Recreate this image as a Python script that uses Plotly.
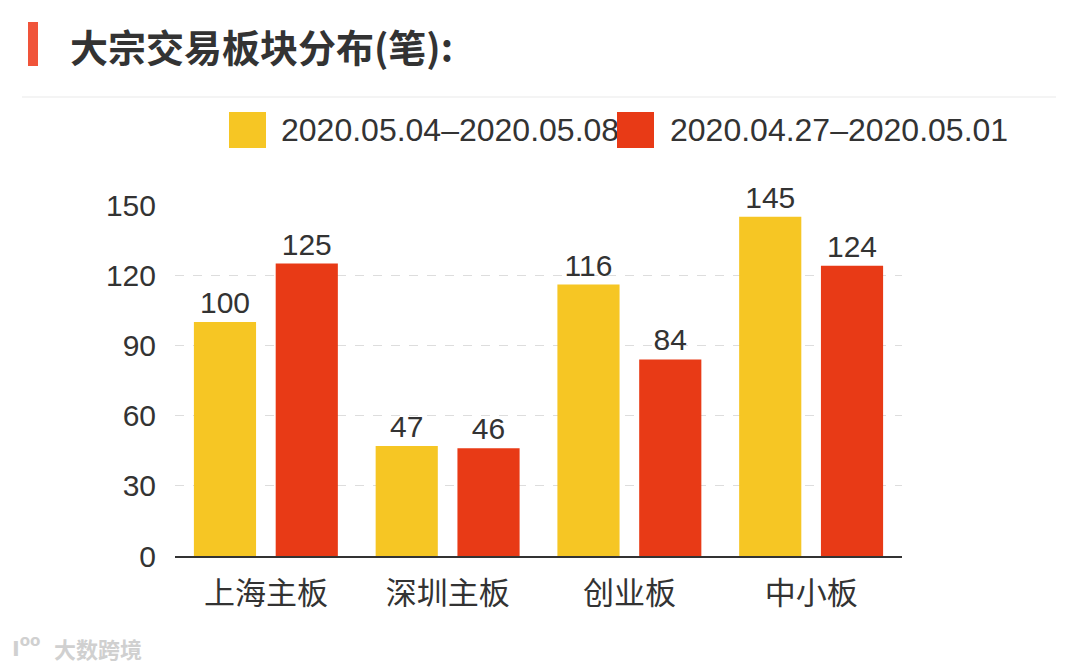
import plotly.graph_objects as go

categories = ["上海主板", "深圳主板", "创业板", "中小板"]
series_names = ["2020.05.04–2020.05.08", "2020.04.27–2020.05.01"]
values_week1 = [100, 47, 116, 145]
values_week2 = [125, 46, 84, 124]
y_ticks = [0, 30, 60, 90, 120, 150]
title_text = "大宗交易板块分布(笔):"
watermark_text = "大数跨境"

colors = ["#F6C624", "#E83A16"]
FONT = "Liberation Sans, Noto Sans CJK SC, sans-serif"
TXT = "#333333"

# the page body adds an 8px margin; screen coordinates are shifted by OFF
OFF = 8
W, H = 1080, 670
L, R, T, B = 175 - OFF, 1080 - (902 - OFF), 205 - OFF, 670 - (556 - OFF)
pw, ph = W - L - R, H - T - B


def px(x):
    return (x - OFF - L) / pw


def py(y):
    return (H - B - (y - OFF)) / ph


fig = go.Figure()
for name, vals, c in zip(series_names, [values_week1, values_week2], colors):
    fig.add_trace(go.Bar(
        x=categories, y=vals, name=name, marker=dict(color=c, line=dict(width=0)),
        text=[str(v) for v in vals], textposition="outside",
        textfont=dict(size=30, color=TXT, family=FONT), cliponaxis=False,
    ))

shapes = [
    # title accent bar
    dict(type="rect", xref="paper", yref="paper", x0=px(28), x1=px(38), y0=py(66), y1=py(22),
         fillcolor="#F0543A", line=dict(width=0)),
    # separator line
    dict(type="line", xref="paper", yref="paper", x0=px(22), x1=px(1056), y0=py(97), y1=py(97),
         line=dict(color="#F0F0F0", width=1.5)),
]
annotations = [
    dict(text="<b>" + title_text + "</b>", xref="paper", yref="paper", x=px(68), y=py(45),
         xanchor="left", yanchor="middle", showarrow=False,
         font=dict(size=38, color="#333333", family="Noto Sans CJK SC, sans-serif")),
    dict(text="<b>" + watermark_text + "</b>", xref="paper", yref="paper", x=px(52), y=py(648),
         xanchor="left", yanchor="middle", showarrow=False,
         font=dict(size=22, color="#D0D0D0", family="Noto Sans CJK SC, sans-serif")),
    dict(text="<b>ıºº</b>", xref="paper", yref="paper", x=px(10), y=py(646),
         xanchor="left", yanchor="middle", showarrow=False,
         font=dict(size=28, color="#D0D0D0", family=FONT)),
]
# manual legend (squares drawn as annotation boxes so later items sit on top of earlier text)
leg_items = [(229, 279), (617, 668)]
for (sx, tx), name, c in zip(leg_items, series_names, colors):
    annotations.append(dict(text=" ", xref="paper", yref="paper", x=px(sx), y=py(130),
                            xanchor="left", yanchor="middle", showarrow=False,
                            width=37, height=36, bgcolor=c, borderpad=0, borderwidth=0,
                            font=dict(size=10)))
    annotations.append(dict(text=name, xref="paper", yref="paper", x=px(tx), y=py(130),
                            xanchor="left", yanchor="middle", showarrow=False,
                            font=dict(size=32, color=TXT, family=FONT)))

fig.update_layout(
    width=W, height=H, margin=dict(l=L, r=R, t=T, b=B, autoexpand=False),
    paper_bgcolor="white", plot_bgcolor="white",
    barmode="group", bargap=0.1, bargroupgap=0.24,
    showlegend=False, shapes=shapes, annotations=annotations,
    xaxis=dict(showline=True, linecolor="#333333", linewidth=2, ticks="",
               tickfont=dict(size=31, color=TXT, family=FONT), ticklabelstandoff=9,
               showgrid=False, fixedrange=True),
    yaxis=dict(range=[0, 150], tickvals=y_ticks, showline=False, zeroline=False,
               showgrid=True, gridcolor="#DDDDDD", griddash="dash", gridwidth=1,
               tickfont=dict(size=30, color=TXT, family=FONT), ticklabelstandoff=18,
               fixedrange=True),
)

fig.write_html("out.html")
